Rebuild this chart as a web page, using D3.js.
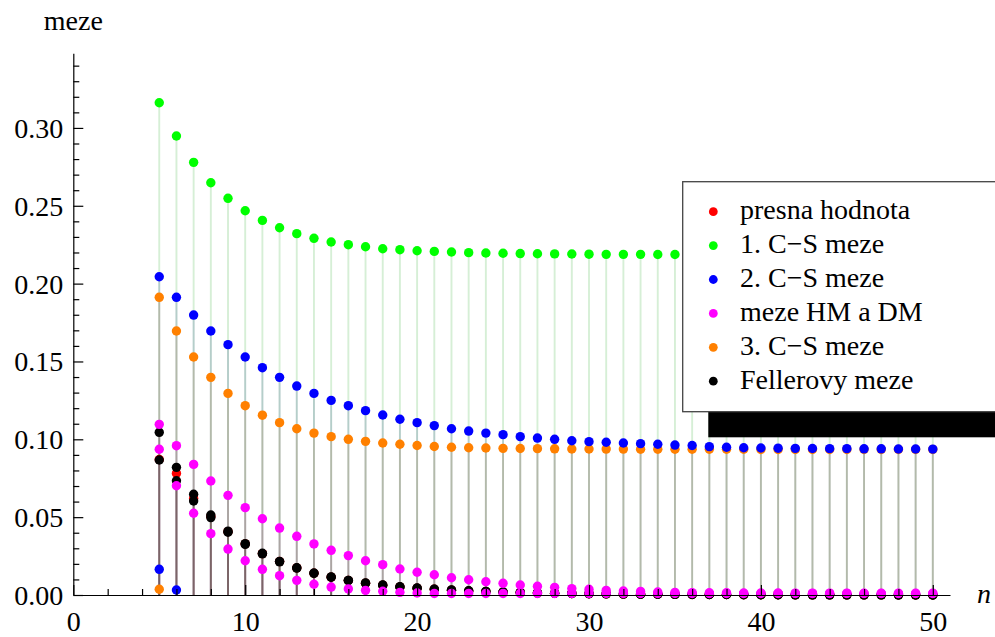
<!DOCTYPE html>
<html>
<head>
<meta charset="utf-8">
<script src="https://cdn.jsdelivr.net/npm/d3@7/dist/d3.min.js"></script>
<style>
  body { margin: 0; background: #fff; }
  svg text { font-family: Liberation Serif, DejaVu Serif, serif; }
</style>
</head>
<body>
<div id="chart"></div>
<script>

// ------------------------------------------------------------------------ //
// DATA
// ------------------------------------------------------------------------ //

var nValues = [5, 6, 7, 8, 9, 10, 11, 12, 13, 14, 15, 16, 17, 18, 19, 20, 21, 22, 23, 24, 25, 26, 27,
  28, 29, 30, 31, 32, 33, 34, 35, 36, 37, 38, 39, 40, 41, 42, 43, 44, 45, 46, 47, 48, 49, 50]

// presna hodnota
var exactValues = [0.0870, 0.0781, 0.0621, 0.0505, 0.0407, 0.0328, 0.0266, 0.0215, 0.0174, 0.0140,
  0.0115, 0.0093, 0.0076, 0.0063, 0.0052, 0.0044, 0.0037, 0.0031, 0.0026, 0.0022, 0.0018, 0.0016,
  0.0013, 0.0011, 0.0010, 0.0008, 0.0007, 0.0006, 0.0005, 0.0005, 0.0004, 0.0003, 0.0003, 0.0003,
  0.0002, 0.0002, 0.0002, 0.0001, 0.0001, 0.0001, 0.0001, 0.0001, 0.0001, 0.0000, 0.0000, 0.0000]

// 1. C-S meze
var cs1Values = [0.3162, 0.2948, 0.2779, 0.2648, 0.2548, 0.2468, 0.2406, 0.2359, 0.2321, 0.2291,
  0.2267, 0.2250, 0.2237, 0.2224, 0.2218, 0.2211, 0.2207, 0.2203, 0.2199, 0.2197, 0.2195, 0.2193,
  0.2192, 0.2191, 0.2190, 0.2189, 0.2188, 0.2188, 0.2188, 0.2187, 0.2187, 0.2187, 0.2187, 0.2186,
  0.2186, 0.2186, 0.2186, 0.2186, 0.2186, 0.2186, 0.2186, 0.2186, 0.2186, 0.2186, 0.2186, 0.2186]

// 2. C-S meze (upper, and the lower one only where it is positive)
var cs2UpperValues = [0.2044, 0.1912, 0.1798, 0.1696, 0.1608, 0.1529, 0.1460, 0.1398, 0.1342, 0.1295,
  0.1250, 0.1216, 0.1184, 0.1156, 0.1129, 0.1107, 0.1088, 0.1068, 0.1053, 0.1040, 0.1030, 0.1017,
  0.1008, 0.1000, 0.0991, 0.0985, 0.0981, 0.0976, 0.0972, 0.0968, 0.0963, 0.0960, 0.0953, 0.0949,
  0.0946, 0.0944, 0.0943, 0.0942, 0.0941, 0.0940, 0.0940, 0.0939, 0.0939, 0.0938, 0.0938, 0.0937]
var cs2LowerN = [5, 6]
var cs2LowerValues = [0.0165, 0.0032]

// meze HM a DM
var hmValues = [0.1096, 0.0959, 0.0839, 0.0732, 0.0640, 0.0561, 0.0490, 0.0430, 0.0377, 0.0328,
  0.0287, 0.0253, 0.0220, 0.0195, 0.0167, 0.0146, 0.0130, 0.0111, 0.0098, 0.0085, 0.0075, 0.0064,
  0.0056, 0.0049, 0.0041, 0.0037, 0.0030, 0.0026, 0.0023, 0.0019, 0.0017, 0.0015, 0.0014, 0.0014,
  0.0013, 0.0013, 0.0013, 0.0012, 0.0012, 0.0012, 0.0012, 0.0011, 0.0011, 0.0011, 0.0011, 0.0011]
var dmValues = [0.0936, 0.0702, 0.0525, 0.0394, 0.0295, 0.0220, 0.0165, 0.0124, 0.0094, 0.0069,
  0.0051, 0.0039, 0.0030, 0.0024, 0.0017, 0.0013, 0.0010, 0.0010, 0.0010, 0.0010, 0.0010, 0.0010,
  0.0010, 0.0010, 0.0010, 0.0010, 0.0010, 0.0010, 0.0010, 0.0010, 0.0010, 0.0010, 0.0010, 0.0010,
  0.0010, 0.0010, 0.0010, 0.0010, 0.0010, 0.0010, 0.0010, 0.0010, 0.0010, 0.0010, 0.0010, 0.0010]

// 3. C-S meze
var cs3UpperValues = [0.1912, 0.1696, 0.1529, 0.1398, 0.1295, 0.1216, 0.1155, 0.1107, 0.1068, 0.1040,
  0.1017, 0.1000, 0.0987, 0.0976, 0.0968, 0.0960, 0.0954, 0.0949, 0.0946, 0.0944, 0.0942, 0.0941,
  0.0940, 0.0939, 0.0938, 0.0938, 0.0937, 0.0937, 0.0936, 0.0936, 0.0936, 0.0936, 0.0936, 0.0936,
  0.0936, 0.0935, 0.0935, 0.0935, 0.0935, 0.0935, 0.0935, 0.0935, 0.0935, 0.0935, 0.0935, 0.0935]
var cs3LowerN = [5]
var cs3LowerValues = [0.0037]

// Fellerovy meze
var fellerUpperValues = [0.1045, 0.0820, 0.0647, 0.0514, 0.0410, 0.0330, 0.0268, 0.0216, 0.0175, 0.0141,
  0.0116, 0.0094, 0.0077, 0.0064, 0.0053, 0.0045, 0.0038, 0.0032, 0.0027, 0.0023, 0.0019, 0.0016,
  0.0014, 0.0012, 0.0010, 0.0009, 0.0008, 0.0007, 0.0006, 0.0005, 0.0004, 0.0004, 0.0003, 0.0003,
  0.0003, 0.0002, 0.0002, 0.0002, 0.0001, 0.0001, 0.0001, 0.0001, 0.0001, 0.0001, 0.0001, 0.0000]
var fellerLowerValues = [0.0867, 0.0734, 0.0604, 0.0497, 0.0403, 0.0325, 0.0264, 0.0213, 0.0173, 0.0139,
  0.0114, 0.0093, 0.0076, 0.0063, 0.0052, 0.0044, 0.0037, 0.0031, 0.0026, 0.0022, 0.0018, 0.0016,
  0.0013, 0.0011, 0.0010, 0.0008, 0.0007, 0.0006, 0.0005, 0.0005, 0.0004, 0.0003, 0.0003, 0.0003,
  0.0002, 0.0002, 0.0002, 0.0001, 0.0001, 0.0001, 0.0001, 0.0001, 0.0001, 0.0000, 0.0000, 0.0000]

// ticks
var xMajorTicks = [0, 10, 20, 30, 40, 50]
var xMinorTicks = [2, 4, 6, 8, 12, 14, 16, 18, 22, 24, 26, 28, 32, 34, 36, 38, 42, 44, 46, 48]
var yMajorTicks = [0, 0.05, 0.10, 0.15, 0.20, 0.25, 0.30]
var yMinorTicks = [0.01, 0.02, 0.03, 0.04, 0.06, 0.07, 0.08, 0.09, 0.11, 0.12, 0.13, 0.14,
  0.16, 0.17, 0.18, 0.19, 0.21, 0.22, 0.23, 0.24, 0.26, 0.27, 0.28, 0.29, 0.31, 0.32, 0.33, 0.34]

// legend entries, in legend order
var legendLabels = ["presna hodnota", "1. C\u2212S meze", "2. C\u2212S meze", "meze HM a DM", "3. C\u2212S meze", "Fellerovy meze"]
var legendColors = ["#ff0000", "#00ff00", "#0000ff", "#ff00ff", "#ff8000", "#000000"]


// ------------------------------------------------------------------------ //
// SVG AREA
// ------------------------------------------------------------------------ //

var width = 995, height = 637
var plot = {left: 73.3, right: 950, top: 53.2, bottom: 595}
var fontSize = "28px"

var svg = d3.select("#chart")
  .append("svg")
    .attr("width", width)
    .attr("height", height)
    .attr("font-family", "Liberation Serif, DejaVu Serif, serif")

var x = d3.scaleLinear()
  .domain([0, 51])
  .range([plot.left, plot.right])

var y = d3.scaleLinear()
  .domain([0, 0.348])
  .range([plot.bottom, plot.top])

// build the table of points: [n, value, color]
function pts(ns, vals, color) {
  return ns.map(function(n, i) { return {n: n, v: vals[i], color: color} })
}
var green = "#00ff00", red = "#ff0000", blue = "#0000ff", magenta = "#ff00ff", orange = "#ff8000", black = "#000000"

// drawing order of the points (later on top)
var allPoints = [].concat(
  pts(nValues, cs1Values, green),
  pts(nValues, exactValues, red),
  pts(nValues, cs3UpperValues, orange),
  pts(cs3LowerN, cs3LowerValues, orange),
  pts(nValues, fellerUpperValues, black),
  pts(nValues, fellerLowerValues, black),
  pts(nValues, cs2UpperValues, blue),
  pts(cs2LowerN, cs2LowerValues, blue),
  pts(nValues, hmValues, magenta),
  pts(nValues, dmValues, magenta)
)

// stems: magenta and blue first, so the warm ones tint the bottom
var allStems = [].concat(
  pts(nValues, dmValues, magenta),
  pts(nValues, hmValues, magenta),
  pts(cs2LowerN, cs2LowerValues, blue),
  pts(nValues, cs2UpperValues, blue),
  pts(nValues, cs1Values, green),
  pts(nValues, exactValues, red),
  pts(cs3LowerN, cs3LowerValues, orange),
  pts(nValues, cs3UpperValues, orange),
  pts(nValues, fellerUpperValues, black),
  pts(nValues, fellerLowerValues, black)
)


// ------------------------------------------------------------------------ //
// STEMS AND POINTS
// ------------------------------------------------------------------------ //

svg.append("g")
  .selectAll("line")
  .data(allStems)
  .enter()
  .append("line")
    .attr("x1", function(d) { return x(d.n) })
    .attr("x2", function(d) { return x(d.n) })
    .attr("y1", y(0))
    .attr("y2", function(d) { return y(d.v) })
    .style("stroke", function(d) { return d3.interpolateRgb(d.color, "#606060")(0.5) })
    .style("stroke-opacity", 0.2)
    .style("stroke-width", 1.9)

svg.append("g")
  .selectAll("circle")
  .data(allPoints)
  .enter()
  .append("circle")
    .attr("cx", function(d) { return x(d.n) })
    .attr("cy", function(d) { return y(d.v) })
    .attr("r", 4.7)
    .style("fill", function(d) { return d.color })


// ------------------------------------------------------------------------ //
// AXES
// ------------------------------------------------------------------------ //

var xAxis = svg.append("g")
  .attr("transform", "translate(0," + y(0) + ")")
  .call(d3.axisBottom(x).tickValues(xMajorTicks).tickSizeInner(-10).tickSizeOuter(0).tickPadding(16).tickFormat(d3.format("d")))

svg.append("g")
  .attr("transform", "translate(0," + y(0) + ")")
  .call(d3.axisBottom(x).tickValues(xMinorTicks).tickSizeInner(-6).tickSizeOuter(0).tickFormat(""))
  .select(".domain").remove()

var yAxis = svg.append("g")
  .attr("transform", "translate(" + x(0) + ",0)")
  .call(d3.axisLeft(y).tickValues(yMajorTicks).tickSizeInner(-10).tickSizeOuter(0).tickPadding(10).tickFormat(d3.format(".2f")))
yAxis.selectAll("text").attr("dy", "0.34em")

svg.append("g")
  .attr("transform", "translate(" + x(0) + ",0)")
  .call(d3.axisLeft(y).tickValues(yMinorTicks).tickSizeInner(-6).tickSizeOuter(0).tickFormat(""))
  .select(".domain").remove()

svg.selectAll(".domain, .tick line").style("stroke", "#000").style("stroke-width", 1.2)

// axis titles
svg.append("text")
  .attr("x", x(0))
  .attr("y", 29.5)
  .attr("text-anchor", "middle")
  .text("meze")

svg.append("text")
  .attr("x", 977)
  .attr("y", 603)
  .attr("font-style", "italic")
  .text("n")


// ------------------------------------------------------------------------ //
// LEGEND
// ------------------------------------------------------------------------ //

var legend = {x: 682.7, y: 181.7, w: 400, h: 230, shadow: 25.6}

svg.append("rect")
  .attr("x", legend.x + legend.shadow)
  .attr("y", legend.y + legend.shadow)
  .attr("width", legend.w)
  .attr("height", legend.h)
  .style("fill", "#000")

svg.append("rect")
  .attr("x", legend.x)
  .attr("y", legend.y)
  .attr("width", legend.w)
  .attr("height", legend.h)
  .style("fill", "#fff")
  .style("stroke", "#444")
  .style("stroke-width", 1.3)

var rows = svg.append("g")
  .selectAll("g")
  .data(legendLabels)
  .enter()
  .append("g")
    .attr("transform", function(d, i) { return "translate(0," + (211.7 + i * 33.9) + ")" })

rows.append("circle")
  .attr("cx", 713.3)
  .attr("cy", 0)
  .attr("r", 4.4)
  .style("fill", function(d, i) { return legendColors[i] })

rows.append("text")
  .attr("x", 740)
  .attr("y", 7.6)
  .text(function(d) { return d })

// every text in the same serif face
svg.selectAll("text")
  .attr("font-family", "Liberation Serif, DejaVu Serif, serif")
  .attr("font-size", fontSize)
  .attr("fill", "#000")

</script>
</body>
</html>
